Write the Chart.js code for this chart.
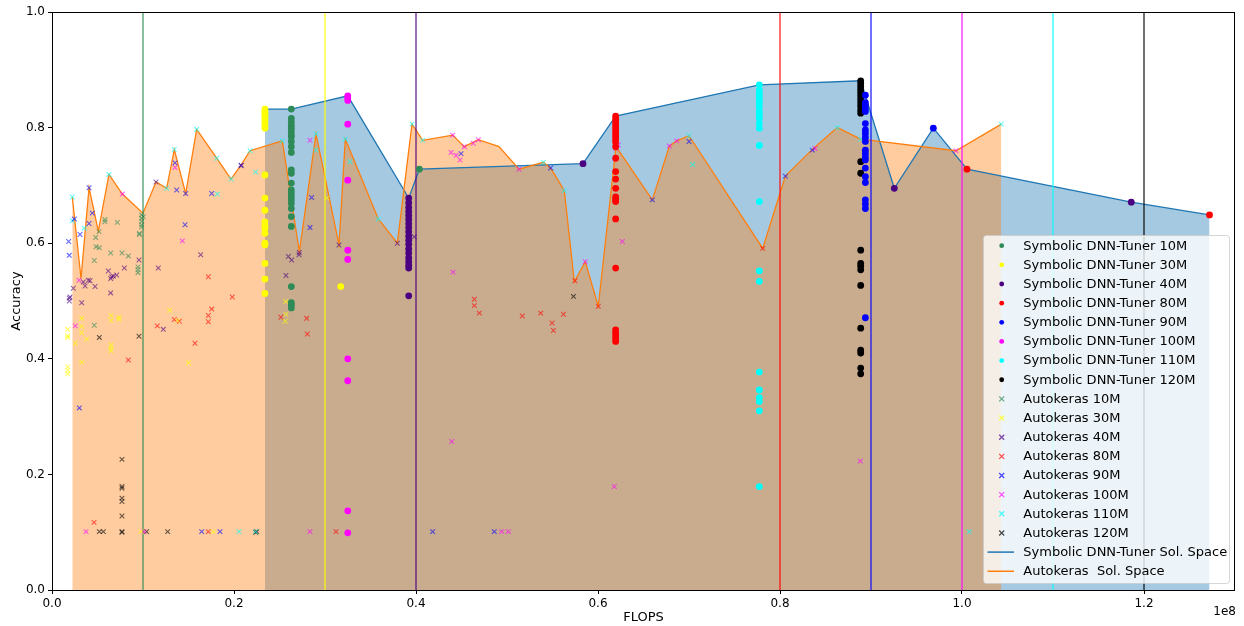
<!DOCTYPE html>
<html>
<head>
<meta charset="utf-8">
<script src="https://cdn.jsdelivr.net/npm/chart.js@4/dist/chart.umd.min.js"></script>
<style>
  html, body { margin: 0; padding: 0; background: #fff; }
  #wrap { width: 1244px; height: 626px; }
</style>
</head>
<body>
<div id="wrap"><canvas id="myChart" width="1244" height="626"></canvas></div>
<script>
// x values are FLOPS in units of 1e8, y is accuracy

var budgetNames = ['10M', '30M', '40M', '80M', '90M', '100M', '110M', '120M'];
var budgetColors = ['#2e8b57', '#ffff00', '#4b0082', '#ff0000', '#0000ff', '#ff00ff', '#00ffff', '#000000'];
var budgetLines = [0.1, 0.3, 0.4, 0.8, 0.9, 1.0, 1.1, 1.2];
var xTicks = [0, 0.2, 0.4, 0.6, 0.8, 1.0, 1.2];

// Symbolic DNN-Tuner results
var sym10M = [[0.263,0.832],[0.263,0.816],[0.263,0.810],[0.263,0.804],[0.263,0.799],[0.263,0.793],[0.263,0.787],
  [0.263,0.784],[0.263,0.776],[0.263,0.767],[0.263,0.757],[0.263,0.727],[0.263,0.721],[0.263,0.704],[0.263,0.692],
  [0.263,0.687],[0.263,0.681],[0.263,0.675],[0.263,0.669],[0.263,0.660],[0.263,0.646],[0.263,0.629],[0.263,0.525],
  [0.263,0.497],[0.263,0.493],[0.263,0.488],[0.4037,0.728]];
var sym30M = [[0.234,0.832],[0.234,0.828],[0.234,0.825],[0.234,0.821],[0.234,0.817],[0.234,0.812],[0.234,0.808],
  [0.234,0.804],[0.234,0.799],[0.234,0.718],[0.234,0.678],[0.234,0.657],[0.234,0.637],[0.234,0.631],[0.234,0.626],
  [0.234,0.617],[0.234,0.600],[0.234,0.597],[0.234,0.565],[0.234,0.538],[0.234,0.513],[0.3173,0.525]];
var sym40M = [[0.392,0.678],[0.392,0.670],[0.392,0.662],[0.392,0.655],[0.392,0.648],[0.392,0.641],[0.392,0.634],
  [0.392,0.627],[0.392,0.620],[0.392,0.612],[0.392,0.605],[0.392,0.598],[0.392,0.590],[0.392,0.583],[0.392,0.575],
  [0.392,0.568],[0.392,0.562],[0.392,0.557],[0.392,0.509],[0.5835,0.7376],[0.9256,0.695],[1.186,0.671]];
var sym80M = [[0.6194,0.820],[0.6194,0.815],[0.6194,0.810],[0.6194,0.805],[0.6194,0.800],[0.6194,0.795],[0.6194,0.790],
  [0.6194,0.785],[0.6194,0.780],[0.6194,0.775],[0.6194,0.767],[0.6194,0.747],[0.6194,0.724],[0.6194,0.711],
  [0.6194,0.695],[0.6194,0.680],[0.6194,0.676],[0.6194,0.672],[0.6194,0.642],[0.6194,0.557],[0.6194,0.450],
  [0.6194,0.445],[0.6194,0.440],[0.6194,0.435],[0.6194,0.430],[1.0055,0.728],[1.272,0.649]];
var sym90M = [[0.8938,0.856],[0.8938,0.843],[0.8938,0.838],[0.8938,0.833],[0.8938,0.828],[0.8938,0.807],[0.8938,0.796],
  [0.8938,0.790],[0.8938,0.783],[0.8938,0.776],[0.8938,0.761],[0.8938,0.755],[0.8938,0.749],[0.8938,0.744],
  [0.8938,0.730],[0.8938,0.715],[0.8938,0.705],[0.8938,0.675],[0.8938,0.668],[0.8938,0.660],[0.8938,0.471],
  [0.9685,0.799]];
var sym100M = [[0.325,0.855],[0.325,0.851],[0.325,0.847],[0.325,0.806],[0.325,0.709],[0.325,0.588],[0.325,0.572],
  [0.325,0.400],[0.325,0.362],[0.325,0.137],[0.325,0.099]];
var sym110M = [[0.7773,0.874],[0.7773,0.865],[0.7773,0.859],[0.7773,0.854],[0.7773,0.848],[0.7773,0.842],
  [0.7773,0.836],[0.7773,0.828],[0.7773,0.822],[0.7773,0.816],[0.7773,0.807],[0.7773,0.799],[0.7773,0.769],
  [0.7773,0.672],[0.7773,0.552],[0.7773,0.534],[0.7773,0.377],[0.7773,0.346],[0.7773,0.333],[0.7773,0.326],
  [0.7773,0.310],[0.7773,0.179]];
var sym120M = [[0.8887,0.881],[0.8887,0.876],[0.8887,0.871],[0.8887,0.866],[0.8887,0.861],[0.8887,0.856],
  [0.8887,0.851],[0.8887,0.846],[0.8887,0.841],[0.8887,0.836],[0.8887,0.830],[0.8887,0.825],[0.8887,0.741],
  [0.8887,0.721],[0.8887,0.588],[0.8887,0.565],[0.8887,0.560],[0.8887,0.554],[0.8887,0.527],[0.8887,0.453],
  [0.8887,0.415],[0.8887,0.410],[0.8887,0.384],[0.8887,0.374]];

// Autokeras results
var ak10M = [[0.0582,0.641],[0.0582,0.637],[0.0718,0.636],[0.048,0.610],[0.0516,0.620],[0.0484,0.594],[0.052,0.592],
  [0.0465,0.570],[0.0645,0.583],[0.0769,0.583],[0.0839,0.578],[0.0465,0.458],[0.0945,0.559],[0.0945,0.554],
  [0.0945,0.549],[0.096,0.617],[0.096,0.615],[0.0985,0.649],[0.0985,0.643],[0.0985,0.638],[0.0985,0.632],
  [0.0985,0.628],[0.1003,0.646]];
var ak30M = [[0.0172,0.451],[0.0172,0.440],[0.0172,0.437],[0.0172,0.386],[0.0172,0.380],[0.0172,0.374],[0.0256,0.427],
  [0.0326,0.470],[0.0326,0.456],[0.0326,0.445],[0.0326,0.394],[0.038,0.434],[0.0648,0.475],[0.0648,0.466],
  [0.0648,0.424],[0.0648,0.418],[0.0648,0.414],[0.0736,0.472],[0.0736,0.468],[0.1293,0.484],[0.1381,0.466],
  [0.150,0.393],[0.1773,0.101],[0.0978,0.101],[0.2568,0.499],[0.2571,0.477],[0.2564,0.465],[0.302,0.678]];
var ak40M = [[0.0234,0.522],[0.019,0.505],[0.019,0.500],[0.0198,0.507],[0.0326,0.497],[0.0344,0.533],[0.0363,0.526],
  [0.0399,0.536],[0.0418,0.535],[0.0473,0.525],[0.0619,0.552],[0.0645,0.539],[0.0656,0.542],[0.0674,0.543],
  [0.0711,0.545],[0.0645,0.514],[0.0795,0.557],[0.0956,0.571],[0.1168,0.557],[0.1223,0.451],[0.1634,0.580],
  [0.2597,0.577],[0.2634,0.571],[0.2714,0.580],[0.2717,0.584],[0.2571,0.544],[0.3154,0.597],[0.3795,0.600],
  [0.3982,0.611],[0.208,0.734],[0.1143,0.706]];
var ak80M = [[0.1718,0.542],[0.1981,0.507],[0.1718,0.475],[0.1718,0.464],[0.1755,0.486],[0.1571,0.427],[0.1157,0.457],
  [0.1344,0.468],[0.1399,0.465],[0.0839,0.398],[0.0462,0.117],[0.1718,0.101],[0.2516,0.472],[0.2799,0.470],
  [0.2806,0.443],[0.3121,0.101],[0.4641,0.503],[0.4641,0.492],[0.4696,0.479],[0.5168,0.474],[0.537,0.479],
  [0.5495,0.462],[0.551,0.449],[0.562,0.477],[0.5747,0.535],[0.6003,0.491],[0.781,0.591]];
var ak90M = [[0.0183,0.603],[0.019,0.579],[0.0308,0.615],[0.030,0.315],[0.0245,0.642],[0.0407,0.696],[0.0407,0.634],
  [0.0443,0.652],[0.1352,0.739],[0.137,0.692],[0.1469,0.686],[0.1462,0.632],[0.1755,0.686],[0.2077,0.735],
  [0.1645,0.101],[0.1846,0.101],[0.2853,0.679],[0.2835,0.627],[0.4495,0.755],[0.548,0.730],[0.4183,0.101],
  [0.486,0.101],[0.6597,0.675],[0.700,0.776],[0.8059,0.716],[0.8355,0.761]];
var ak100M = [[0.0297,0.536],[0.0256,0.457],[0.0773,0.685],[0.1352,0.731],[0.1432,0.604],[0.0374,0.101],[0.1011,0.101],
  [0.2835,0.778],[0.2835,0.101],[0.4407,0.550],[0.4392,0.257],[0.4941,0.101],[0.5015,0.101],[0.6179,0.179],
  [0.6267,0.603],[0.4385,0.757],[0.444,0.752],[0.4484,0.744],[0.4403,0.787],[0.4531,0.767],[0.463,0.773],
  [0.4685,0.779],[0.5132,0.728],[0.586,0.568],[0.6198,0.764],[0.6223,0.770],[0.6784,0.768],[0.6865,0.777],
  [0.8385,0.764],[0.8883,0.223],[0.9934,0.760]];
var ak110M = [[0.0223,0.680],[0.0223,0.639],[0.0355,0.626],[0.0626,0.719],[0.126,0.695],[0.1344,0.762],[0.159,0.797],
  [0.181,0.747],[0.1817,0.685],[0.1967,0.711],[0.2176,0.760],[0.2238,0.723],[0.2055,0.101],[0.2238,0.101],
  [0.2531,0.777],[0.2901,0.789],[0.2901,0.761],[0.3223,0.780],[0.3275,0.741],[0.3586,0.642],[0.3956,0.806],
  [0.4073,0.778],[0.5399,0.740],[0.563,0.691],[0.700,0.786],[0.704,0.736],[0.863,0.800],[0.8887,0.780],
  [1.0432,0.806],[1.008,0.101]];
var ak120M = [[0.0769,0.226],[0.0769,0.179],[0.0769,0.176],[0.0769,0.159],[0.0769,0.153],[0.0769,0.128],[0.0769,0.101],
  [0.0769,0.100],[0.052,0.101],[0.0564,0.101],[0.052,0.437],[0.0956,0.439],[0.104,0.101],[0.1271,0.101],
  [0.2238,0.100],[0.573,0.508],[0.225,0.101]];

// solution space outlines
var symFront = [[0.234,0.832],[0.263,0.832],[0.325,0.855],[0.392,0.678],[0.4037,0.728],[0.5835,0.7376],[0.6194,0.820],
  [0.7773,0.874],[0.8887,0.881],[0.9256,0.695],[0.9685,0.799],[1.0055,0.728],[1.186,0.671],[1.272,0.649]];
var akFront = [[0.0223,0.680],[0.0319,0.539],[0.0407,0.696],[0.0509,0.621],[0.0626,0.719],[0.0773,0.685],[0.1,0.652],
  [0.1143,0.706],[0.126,0.695],[0.1344,0.762],[0.1469,0.686],[0.159,0.797],[0.181,0.747],[0.1967,0.711],
  [0.2077,0.735],[0.2176,0.760],[0.2531,0.777],[0.2718,0.585],[0.2901,0.789],[0.3154,0.597],[0.3223,0.780],
  [0.3586,0.642],[0.3795,0.600],[0.3956,0.806],[0.4073,0.778],[0.4403,0.787],[0.4531,0.767],[0.4685,0.779],
  [0.4912,0.767],[0.5132,0.728],[0.5399,0.740],[0.548,0.730],[0.563,0.691],[0.574,0.533],[0.586,0.568],
  [0.6003,0.491],[0.6198,0.767],[0.6597,0.675],[0.6784,0.768],[0.6865,0.777],[0.700,0.786],[0.781,0.591],
  [0.8059,0.716],[0.8366,0.764],[0.863,0.800],[0.8887,0.780],[0.9934,0.760],[1.0432,0.806]];

var symSeries = [sym10M, sym30M, sym40M, sym80M, sym90M, sym100M, sym110M, sym120M];
var akSeries = [ak10M, ak30M, ak40M, ak80M, ak90M, ak100M, ak110M, ak120M];

function toXY(arr) {
    return arr.map(function(p) { return {x: p[0], y: p[1]}; });
}

function withAlpha(hex, a) {
    var r = parseInt(hex.substr(1, 2), 16), g = parseInt(hex.substr(3, 2), 16), b = parseInt(hex.substr(5, 2), 16);
    return 'rgba(' + r + ',' + g + ',' + b + ',' + a + ')';
}

var datasets = [];

// symbolic dots (on top)
symSeries.forEach(function(s, i) {
    datasets.push({
        type: 'scatter',
        label: 'Symbolic DNN-Tuner ' + budgetNames[i],
        data: toXY(s),
        pointStyle: 'circle',
        pointRadius: 3.4,
        borderWidth: 0,
        backgroundColor: budgetColors[i],
        borderColor: budgetColors[i],
        order: i
    });
});

// autokeras crosses
akSeries.forEach(function(s, i) {
    datasets.push({
        type: 'scatter',
        label: 'Autokeras ' + budgetNames[i],
        data: toXY(s),
        pointStyle: 'crossRot',
        pointRadius: 3.3,
        borderWidth: 1.1,
        backgroundColor: withAlpha(budgetColors[i], 0.6),
        borderColor: withAlpha(budgetColors[i], 0.6),
        order: 10 + i
    });
});

// budget limits
budgetLines.forEach(function(v, i) {
    datasets.push({
        type: 'line',
        label: 'limit ' + budgetNames[i],
        data: [{x: v, y: 0}, {x: v, y: 1}],
        borderColor: withAlpha(budgetColors[i], 0.75),
        borderWidth: 1.5,
        pointRadius: 0,
        fill: false,
        order: 20 + i
    });
});

datasets.push({
    type: 'line',
    label: 'Autokeras  Sol. Space',
    data: toXY(akFront),
    borderColor: '#ff7f0e',
    borderWidth: 1.3,
    backgroundColor: 'rgba(255,127,14,0.4)',
    pointRadius: 0,
    tension: 0,
    fill: 'origin',
    order: 40
});
datasets.push({
    type: 'line',
    label: 'Symbolic DNN-Tuner Sol. Space',
    data: toXY(symFront),
    borderColor: '#1f77b4',
    borderWidth: 1.3,
    backgroundColor: 'rgba(31,119,180,0.4)',
    pointRadius: 0,
    tension: 0,
    fill: 'origin',
    order: 41
});

// legend entries, drawn inside the axes like matplotlib
var legendItems = [];
budgetNames.forEach(function(n, i) { legendItems.push({text: 'Symbolic DNN-Tuner ' + n, kind: 'dot', color: budgetColors[i]}); });
budgetNames.forEach(function(n, i) { legendItems.push({text: 'Autokeras ' + n, kind: 'x', color: withAlpha(budgetColors[i], 0.7)}); });
legendItems.push({text: 'Symbolic DNN-Tuner Sol. Space', kind: 'line', color: '#1f77b4'});
legendItems.push({text: 'Autokeras  Sol. Space', kind: 'line', color: '#ff7f0e'});

const framePlugin = {
    id: 'framePlugin',
    afterDraw: (chart) => {
        const ctx = chart.ctx;
        const {top, left, right, bottom} = chart.chartArea;
        ctx.save();
        ctx.strokeStyle = '#000';
        ctx.lineWidth = 1;
        ctx.strokeRect(left + 0.5, top + 0.5, right - left - 1, bottom - top);

        // offset text of x axis
        ctx.fillStyle = '#000';
        ctx.font = '12px "DejaVu Sans"';
        ctx.textAlign = 'right';
        ctx.textBaseline = 'middle';
        ctx.fillText('1e8', right + 1, 612);

        // legend box
        var bx = 983.5, by = 235.5, bw = 246, bh = 348, r = 3;
        ctx.beginPath();
        ctx.moveTo(bx + r, by);
        ctx.lineTo(bx + bw - r, by);
        ctx.quadraticCurveTo(bx + bw, by, bx + bw, by + r);
        ctx.lineTo(bx + bw, by + bh - r);
        ctx.quadraticCurveTo(bx + bw, by + bh, bx + bw - r, by + bh);
        ctx.lineTo(bx + r, by + bh);
        ctx.quadraticCurveTo(bx, by + bh, bx, by + bh - r);
        ctx.lineTo(bx, by + r);
        ctx.quadraticCurveTo(bx, by, bx + r, by);
        ctx.closePath();
        ctx.fillStyle = 'rgba(255,255,255,0.8)';
        ctx.fill();
        ctx.strokeStyle = 'rgba(204,204,204,0.8)';
        ctx.stroke();

        ctx.font = '13px "DejaVu Sans"';
        ctx.textAlign = 'left';
        legendItems.forEach(function(it, i) {
            var cy = 245.7 + i * 19.15;
            var mx = 1001.7;
            if (it.kind === 'dot') {
                ctx.fillStyle = it.color;
                ctx.beginPath();
                ctx.arc(mx, cy, 2.4, 0, Math.PI * 2);
                ctx.fill();
            } else if (it.kind === 'x') {
                ctx.strokeStyle = it.color;
                ctx.lineWidth = 1.3;
                ctx.beginPath();
                ctx.moveTo(mx - 2.5, cy - 2.5); ctx.lineTo(mx + 2.5, cy + 2.5);
                ctx.moveTo(mx + 2.5, cy - 2.5); ctx.lineTo(mx - 2.5, cy + 2.5);
                ctx.stroke();
            } else {
                ctx.strokeStyle = it.color;
                ctx.lineWidth = 1.5;
                ctx.beginPath();
                ctx.moveTo(987.5, cy); ctx.lineTo(1014, cy);
                ctx.stroke();
            }
            ctx.fillStyle = '#000';
            ctx.fillText(it.text, 1023.3, cy + 0.5);
        });
        ctx.restore();
    }
};

Chart.defaults.font.family = '"DejaVu Sans"';
Chart.defaults.color = '#000';

var ctx = document.getElementById('myChart').getContext('2d');
var config = {
    type: 'scatter',
    data: { datasets: datasets },
    plugins: [framePlugin],
    options: {
        responsive: false,
        animation: false,
        events: [],
        layout: { padding: { left: 0, right: 9, top: 12, bottom: 0 } },
        scales: {
            x: {
                type: 'linear',
                min: 0,
                max: 1.3,
                afterBuildTicks: function(scale) {
                    scale.ticks = xTicks.map(function(v) { return {value: v}; });
                },
                afterFit: function(scale) { scale.height = 36; },
                border: { display: false },
                grid: { drawOnChartArea: false, drawTicks: true, tickLength: 4, color: '#000', tickWidth: 1 },
                ticks: {
                    padding: 3,
                    font: { size: 12 },
                    color: '#000',
                    maxRotation: 0,
                    callback: function(v) { return v.toFixed(1); }
                },
                title: { display: true, text: 'FLOPS', font: { size: 13 }, padding: { top: 0, bottom: 1 } }
            },
            y: {
                min: 0,
                max: 1,
                afterFit: function(scale) { scale.width = 52; },
                border: { display: false },
                grid: { drawOnChartArea: false, drawTicks: true, tickLength: 4, color: '#000', tickWidth: 1 },
                ticks: {
                    stepSize: 0.2,
                    padding: 3,
                    font: { size: 12 },
                    color: '#000',
                    callback: function(v) { return v.toFixed(1); }
                },
                title: { display: true, text: 'Accuracy', font: { size: 13 }, padding: { top: 9, bottom: 0 } }
            }
        },
        plugins: {
            legend: { display: false },
            tooltip: { enabled: false },
            filler: { drawTime: 'beforeDatasetsDraw' }
        }
    }
};

var scatterChart = new Chart(ctx, config);
</script>
</body>
</html>
